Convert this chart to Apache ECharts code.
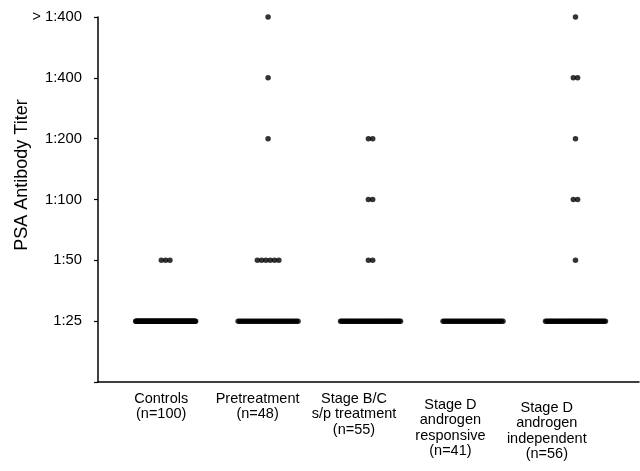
<!DOCTYPE html>
<html>
<head>
<meta charset="utf-8">
<script src="https://cdn.jsdelivr.net/npm/echarts@6/dist/echarts.min.js"></script>
<style>
  html, body { margin: 0; padding: 0; background: #fff; }
  #chart { width: 640px; height: 471px; }
</style>
</head>
<body>
<div id="chart"></div>
<script>
// Categories (x-axis labels)
const categories = [
  'Controls\n(n=100)',
  'Pretreatment\n(n=48)',
  'Stage B/C\ns/p treatment\n(n=55)',
  'Stage D\nandrogen\nresponsive\n(n=41)',
  'Stage D\nandrogen\nindependent\n(n=56)'
];
// Y tick labels (level 0 = axis floor)
const titerLabels = ['', '1:25', '1:50', '1:100', '1:200', '1:400', '> 1:400'];

// Number of patients at each titer level: [1:25, 1:50, 1:100, 1:200, 1:400, >1:400]
const countsControls     = [97, 3, 0, 0, 0, 0];
const countsPretreatment = [39, 6, 0, 1, 1, 1];
const countsStageBC      = [49, 2, 2, 2, 0, 0];
const countsStageDResp   = [41, 0, 0, 0, 0, 0];
const countsStageDIndep  = [49, 1, 2, 1, 2, 1];

const groups = [countsControls, countsPretreatment, countsStageBC, countsStageDResp, countsStageDIndep];

// Build dot positions (dots at the same titer sit side by side)
const points = [];
groups.forEach(function (counts, gi) {
  const center = gi + 1;
  counts.forEach(function (n, li) {
    if (!n) return;
    const level = li + 1;
    const span = n > 10 ? 0.585 : (n - 1) * 0.042;
    for (let k = 0; k < n; k++) {
      const x = n === 1 ? center : center - span / 2 + span * k / (n - 1);
      points.push([x, level]);
    }
  });
});

const FONT = "'Liberation Sans', Arial, Helvetica, sans-serif";
const chart = echarts.init(document.getElementById('chart'));
chart.setOption({
  animation: false,
  backgroundColor: '#fff',
  grid: [
    { left: 98, right: 1, top: 17, bottom: 89 },
    { left: 113, right: 45, top: 17, bottom: 89 }
  ],
  xAxis: [
    {
      type: 'value', gridIndex: 0, min: 0.34, max: 5.62,
      axisLine: { show: true, onZero: false, lineStyle: { color: '#000', width: 1.5 } },
      axisTick: { show: false }, axisLabel: { show: false }, splitLine: { show: false }
    },
    {
      type: 'category', gridIndex: 1,
      data: categories.map(function (c, i) {
        const pad = [0, 0, 0, 6, 9][i];
        return { value: c, textStyle: { padding: [pad, 0, 0, 0] } };
      }),
      axisLine: { show: false }, axisTick: { show: false }, splitLine: { show: false },
      axisLabel: {
        interval: 0, margin: 9, color: '#000', fontFamily: FONT, fontSize: 14.5, lineHeight: 15.5
      }
    }
  ],
  yAxis: [
    {
      type: 'value', gridIndex: 0, min: 0, max: 6, interval: 1,
      axisLine: { show: true, lineStyle: { color: '#000', width: 1.5 } },
      axisTick: { show: true, length: 4, lineStyle: { color: '#000', width: 1.2 } },
      splitLine: { show: false },
      axisLabel: {
        margin: 16, color: '#000', fontFamily: FONT, fontSize: 14.8,
        formatter: function (v) { return titerLabels[v] || ''; }
      }
    },
    { type: 'value', gridIndex: 1, min: 0, max: 6, show: false }
  ],
  graphic: [
    {
      type: 'text', x: 22, y: 175, rotation: Math.PI / 2,
      style: {
        text: 'PSA Antibody Titer', font: '18px ' + FONT, fill: '#000',
        textAlign: 'center', textVerticalAlign: 'middle'
      }
    }
  ],
  series: [
    {
      type: 'scatter', xAxisIndex: 0, yAxisIndex: 0,
      data: points, symbol: 'circle', symbolSize: 5.5,
      itemStyle: { color: '#000' }, silent: true
    }
  ]
});
</script>
</body>
</html>
